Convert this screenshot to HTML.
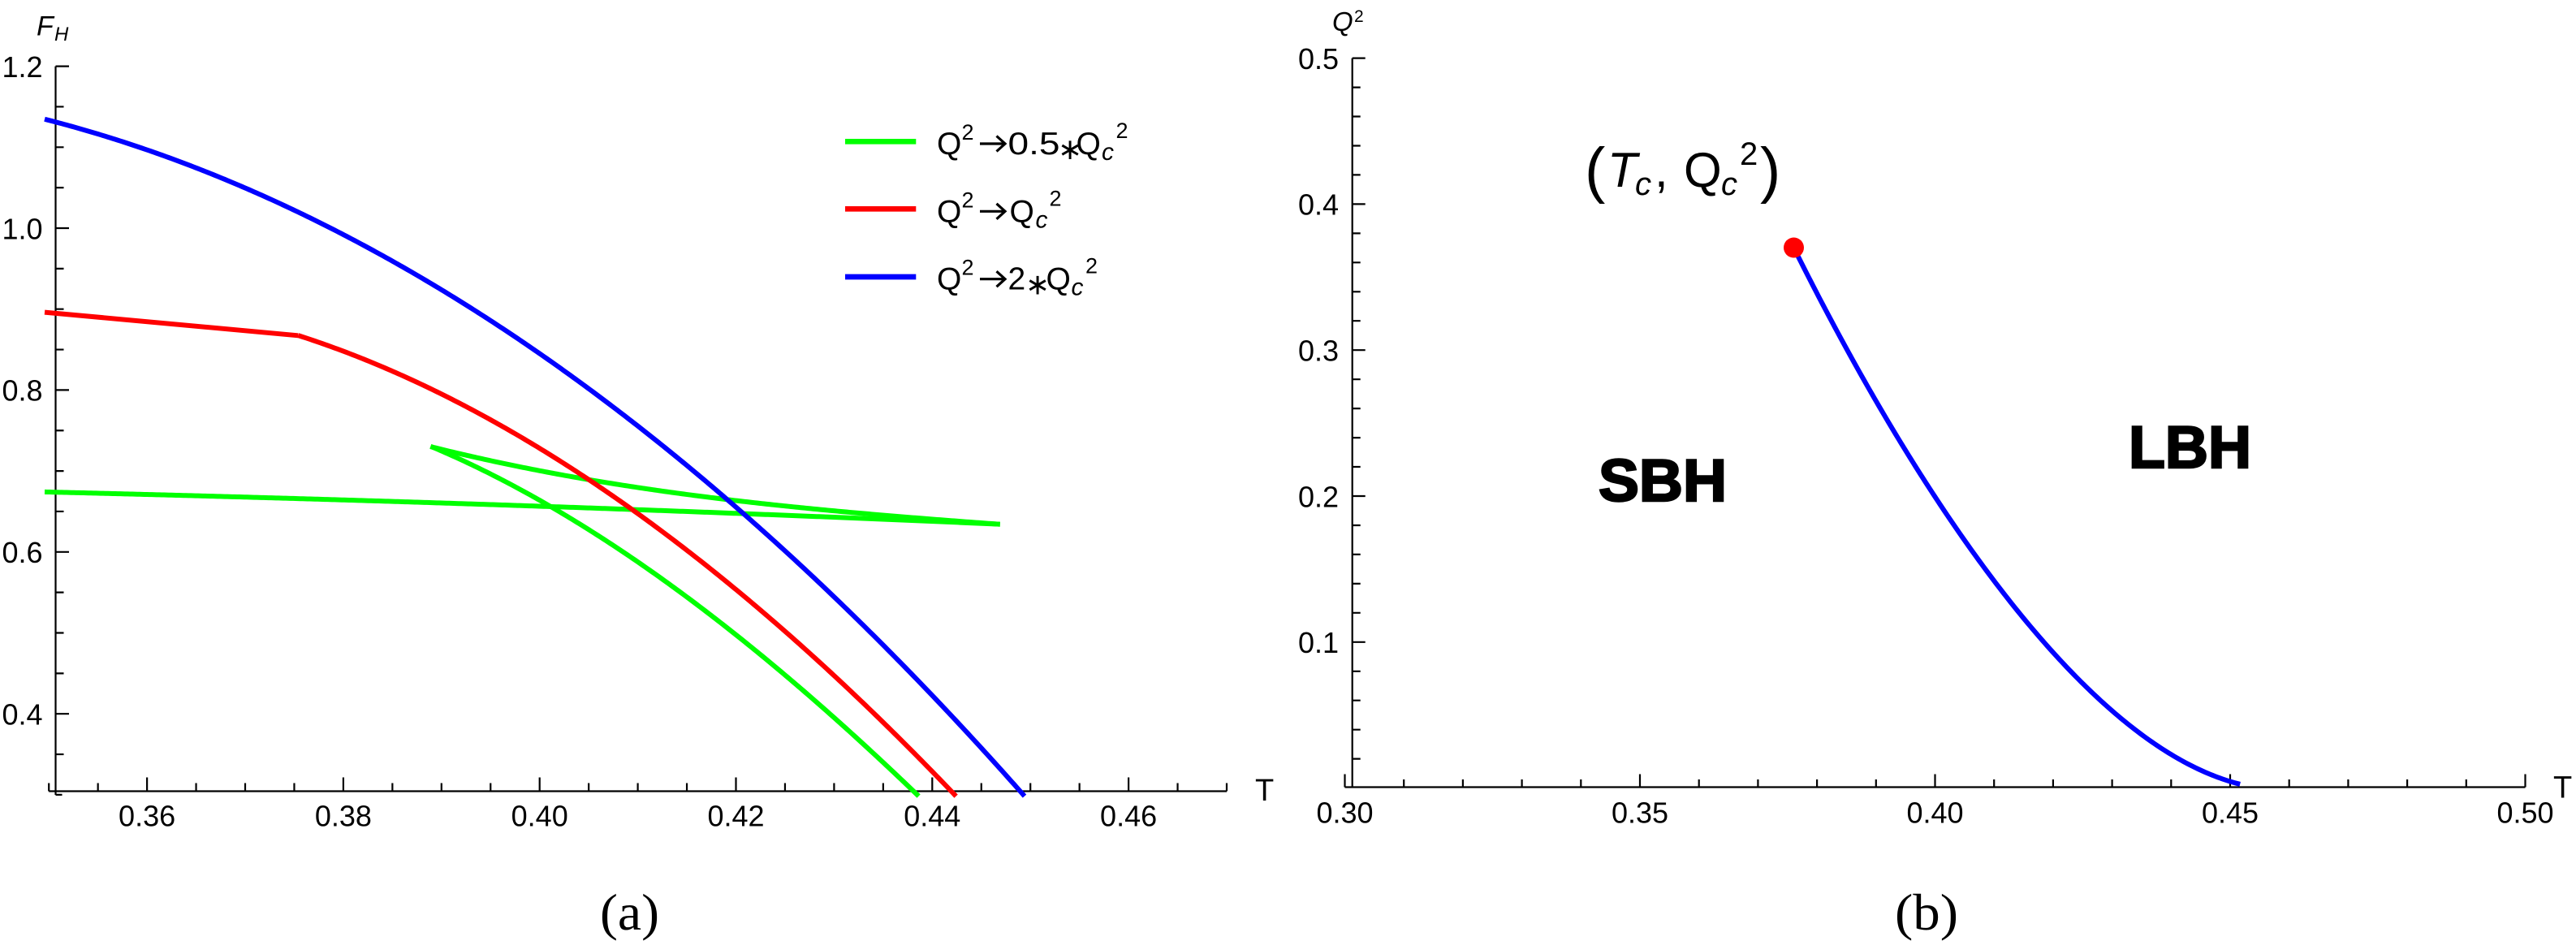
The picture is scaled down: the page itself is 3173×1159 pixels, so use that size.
<!DOCTYPE html>
<html>
<head>
<meta charset="utf-8">
<style>
  html,body{margin:0;padding:0;background:#fff;}
  svg{display:block;}
  text{font-family:"Liberation Sans","DejaVu Sans",sans-serif;fill:#000;}
  .serif{font-family:"Liberation Serif","DejaVu Serif",serif;}
</style>
</head>
<body>
<svg id="fig" width="3173" height="1159" viewBox="0 0 3173 1159" xmlns="http://www.w3.org/2000/svg">
<rect x="0" y="0" width="3173" height="1159" fill="#fff"/>

<!-- ================= LEFT PLOT (a) ================= -->
<g stroke="#000" stroke-width="2.2" fill="none">
  <path d="M68.5 81.6 V979"/>
  <path d="M60.2 974.5 H1511"/>
  <path d="M68.5 81.6 H85 M68.5 281 H85 M68.5 480.4 H85 M68.5 679.8 H85 M68.5 879.2 H85"/>
  <path d="M68.5 131.45 H78.5 M68.5 181.3 H78.5 M68.5 231.15 H78.5 M68.5 330.85 H78.5 M68.5 380.7 H78.5 M68.5 430.55 H78.5 M68.5 530.25 H78.5 M68.5 580.1 H78.5 M68.5 629.95 H78.5 M68.5 729.65 H78.5 M68.5 779.5 H78.5 M68.5 829.35 H78.5 M68.5 929.05 H78.5 M68.5 978.9 H76.5"/>
  <path d="M181.1 974.5 V957.5 M422.9 974.5 V957.5 M664.7 974.5 V957.5 M906.5 974.5 V957.5 M1148.3 974.5 V957.5 M1390.1 974.5 V957.5"/>
  <path d="M60.2 974.5 V964.5 M120.65 974.5 V964.5 M241.55 974.5 V964.5 M302 974.5 V964.5 M362.45 974.5 V964.5 M483.35 974.5 V964.5 M543.8 974.5 V964.5 M604.25 974.5 V964.5 M725.15 974.5 V964.5 M785.6 974.5 V964.5 M846.05 974.5 V964.5 M966.95 974.5 V964.5 M1027.4 974.5 V964.5 M1087.85 974.5 V964.5 M1208.75 974.5 V964.5 M1269.2 974.5 V964.5 M1329.65 974.5 V964.5 M1450.55 974.5 V964.5 M1511 974.5 V964.5"/>
</g>

<g font-size="36" text-anchor="end">
  <text x="52.5" y="95">1.2</text>
  <text x="52.5" y="294.3">1.0</text>
  <text x="52.5" y="493.7">0.8</text>
  <text x="52.5" y="693.1">0.6</text>
  <text x="52.5" y="892.5">0.4</text>
</g>
<g font-size="36" text-anchor="middle">
  <text x="181.1" y="1017.6">0.36</text>
  <text x="422.9" y="1017.6">0.38</text>
  <text x="664.7" y="1017.6">0.40</text>
  <text x="906.5" y="1017.6">0.42</text>
  <text x="1148.3" y="1017.6">0.44</text>
  <text x="1390.1" y="1017.6">0.46</text>
</g>
<text x="45" y="43.3" font-size="34" font-style="italic">F</text>
<text x="67" y="50" font-size="24" font-style="italic">H</text>
<text x="1546" y="986" font-size="38">T</text>

<g fill="none" stroke-width="6" stroke-linejoin="round" stroke-linecap="butt">
  <polyline id="g1" stroke="#00ff00" points="55,605.9 250,611.5 450,616.7 679.6,623.3 909.2,632.7 1100,640 1231.8,645.7"/>
  <polyline id="g2" stroke="#00ff00" points="530.4,550 553,556.5 576.5,562.6 630,575 719.8,590 800,601.5 897.8,613.3 980,624 1052.8,633.3 1140,640.5 1231.8,645.7"/>
  <polyline id="g3" stroke="#00ff00" points="530.4,550 556,557.5 582,566.7 630,593 679.6,623.3 737,663 794.4,703.3 852,743.5 909.2,783.3 950,815 992.5,850 1060,911 1131.6,980.7"/>
  <polyline stroke="#ff0000" points="55,384.6 367.3,413.3"/>
  <polyline id="r1" stroke="#ff0000" points="367.3,413.3 385,418.5 400,423.5 433.7,434.4 480,453.5 525.5,474.5 564.8,493.3 612,523 665,556 719.8,590 777.2,626.7 851.8,683.3 938,750 995,800 1047,850 1110,913 1177.6,980.7"/>
  <polyline id="b1" stroke="#0000ff" points="55,146.7 125,168 194,191 250,211.5 306,233 388,270 459,306 536,350 612,398 682.5,450 740,492 794.4,536.7 897.8,613.3 966.6,676.7 1052.8,763.3 1144.6,850 1182.7,891 1222,935 1262,980.7"/>
</g>

<!-- legend -->
<g stroke-width="6.7">
  <line x1="1041" y1="174.3" x2="1128.3" y2="174.3" stroke="#00ff00"/>
  <line x1="1041" y1="257.3" x2="1128.3" y2="257.3" stroke="#ff0000"/>
  <line x1="1041" y1="341" x2="1128.3" y2="341" stroke="#0000ff"/>
</g>
<g stroke="#000" stroke-width="3.2" fill="none" stroke-linecap="butt" stroke-linejoin="miter">
  <path d="M1207 177 H1236.5 M1227.5 167.5 L1238 177 L1227.5 186.5"/>
  <path d="M1207 260.3 H1236.5 M1227.5 250.8 L1238 260.3 L1227.5 269.8"/>
  <path d="M1207 343.7 H1236.5 M1227.5 334.2 L1238 343.7 L1227.5 353.2"/>
</g>
<g>
  <text x="1154" y="190" font-size="39">Q</text>
  <text x="1184.5" y="172" font-size="27">2</text>
  <text x="1241.5" y="190" font-size="39" textLength="64" lengthAdjust="spacingAndGlyphs">0.5</text>
  <text x="1303" y="196" font-size="36" font-family="DejaVu Sans, sans-serif">∗</text>
  <text x="1325.5" y="190" font-size="39">Q</text>
  <text x="1357" y="197" font-size="30" font-style="italic">c</text>
  <text x="1374.5" y="170" font-size="27">2</text>

  <text x="1154" y="273.3" font-size="39">Q</text>
  <text x="1184.5" y="255.3" font-size="27">2</text>
  <text x="1243.5" y="273.3" font-size="39">Q</text>
  <text x="1275.5" y="280.3" font-size="30" font-style="italic">c</text>
  <text x="1292.5" y="253.3" font-size="27">2</text>

  <text x="1154" y="356.7" font-size="39">Q</text>
  <text x="1184.5" y="338.7" font-size="27">2</text>
  <text x="1241.5" y="356.7" font-size="39">2</text>
  <text x="1263" y="362.7" font-size="36" font-family="DejaVu Sans, sans-serif">∗</text>
  <text x="1288.5" y="356.7" font-size="39">Q</text>
  <text x="1319.5" y="363.7" font-size="30" font-style="italic">c</text>
  <text x="1337" y="336.7" font-size="27">2</text>
</g>

<text class="serif" x="739" y="1145" font-size="64" textLength="73" lengthAdjust="spacingAndGlyphs">(a)</text>

<!-- ================= RIGHT PLOT (b) ================= -->
<g stroke="#000" stroke-width="2.2" fill="none">
  <path d="M1665.7 71.6 V969.5"/>
  <path d="M1656.5 969.5 H3110.5"/>
  <path d="M1665.7 790.8 H1681.7 M1665.7 611 H1681.7 M1665.7 431.2 H1681.7 M1665.7 251.4 H1681.7 M1665.7 71.6 H1681.7"/>
  <path d="M1665.7 934.6 H1675.7 M1665.7 898.7 H1675.7 M1665.7 862.7 H1675.7 M1665.7 826.8 H1675.7 M1665.7 754.8 H1675.7 M1665.7 718.9 H1675.7 M1665.7 682.9 H1675.7 M1665.7 647 H1675.7 M1665.7 575 H1675.7 M1665.7 539.1 H1675.7 M1665.7 503.1 H1675.7 M1665.7 467.2 H1675.7 M1665.7 395.2 H1675.7 M1665.7 359.3 H1675.7 M1665.7 323.3 H1675.7 M1665.7 287.4 H1675.7 M1665.7 215.4 H1675.7 M1665.7 179.5 H1675.7 M1665.7 143.5 H1675.7 M1665.7 107.6 H1675.7"/>
  <path d="M1656.5 969.5 V953.5 M2020 969.5 V953.5 M2383.5 969.5 V953.5 M2747 969.5 V953.5 M3110.5 969.5 V953.5"/>
  <path d="M1729.2 969.5 V960 M1801.9 969.5 V960 M1874.6 969.5 V960 M1947.3 969.5 V960 M2092.7 969.5 V960 M2165.4 969.5 V960 M2238.1 969.5 V960 M2310.8 969.5 V960 M2456.2 969.5 V960 M2528.9 969.5 V960 M2601.6 969.5 V960 M2674.3 969.5 V960 M2819.7 969.5 V960 M2892.4 969.5 V960 M2965.1 969.5 V960 M3037.8 969.5 V960"/>
</g>
<g font-size="36" text-anchor="end">
  <text x="1649" y="84.9">0.5</text>
  <text x="1649" y="264.7">0.4</text>
  <text x="1649" y="444.5">0.3</text>
  <text x="1649" y="624.3">0.2</text>
  <text x="1649" y="804.1">0.1</text>
</g>
<g font-size="36" text-anchor="middle">
  <text x="1656.5" y="1013.5">0.30</text>
  <text x="2020" y="1013.5">0.35</text>
  <text x="2383.5" y="1013.5">0.40</text>
  <text x="2747" y="1013.5">0.45</text>
  <text x="3110.5" y="1013.5">0.50</text>
</g>
<text x="1641" y="38" font-size="33" font-style="italic">Q</text>
<text x="1668" y="27" font-size="21">2</text>
<text x="3145" y="982.5" font-size="38">T</text>

<text x="1952" y="235" font-size="76">(</text>
<text x="1980" y="230" font-size="60" font-style="italic">T</text>
<text x="2014" y="240" font-size="40" font-style="italic">c</text>
<text x="2038" y="230" font-size="60">,</text>
<text x="2074" y="230" font-size="60">Q</text>
<text x="2120" y="240" font-size="40" font-style="italic">c</text>
<text x="2143" y="203" font-size="40">2</text>
<text x="2168" y="235" font-size="76">)</text>

<text x="1969" y="617" font-size="73" font-weight="bold" stroke="#000" stroke-width="2.5" textLength="158" lengthAdjust="spacingAndGlyphs">SBH</text>
<text x="2622" y="576" font-size="73" font-weight="bold" stroke="#000" stroke-width="2.5" textLength="151" lengthAdjust="spacingAndGlyphs">LBH</text>

<polyline id="b2" fill="none" stroke="#0000ff" stroke-width="6" stroke-linejoin="round" points="2209.5,305 2212.6,313.8 2240,366.5 2268.8,421 2297,469.5 2325,516.6 2373,594.8 2424,672.3 2475,738.8 2526,801.6 2577,853.3 2628,897.6 2679,930.8 2730,956.7 2759.2,965.9"/>
<circle cx="2209.5" cy="305" r="12.5" fill="#ff0000"/>

<text class="serif" x="2334" y="1145" font-size="64" textLength="78" lengthAdjust="spacingAndGlyphs">(b)</text>
</svg>
<script>
(function(){
  function solve(A, b){
    var n = b.length, i, j, k;
    for (i = 0; i < n; i++) {
      var mx = i;
      for (k = i+1; k < n; k++) if (Math.abs(A[k][i]) > Math.abs(A[mx][i])) mx = k;
      var tmp = A[i]; A[i] = A[mx]; A[mx] = tmp;
      var tb = b[i]; b[i] = b[mx]; b[mx] = tb;
      for (k = i+1; k < n; k++) {
        var f = A[k][i] / A[i][i];
        for (j = i; j < n; j++) A[k][j] -= f * A[i][j];
        b[k] -= f * b[i];
      }
    }
    var x = new Array(n);
    for (i = n-1; i >= 0; i--) {
      var s = b[i];
      for (j = i+1; j < n; j++) s -= A[i][j] * x[j];
      x[i] = s / A[i][i];
    }
    return x;
  }
  function fitCurve(id, deg, wEnd){
    var pl = document.getElementById(id);
    if (!pl) return;
    var pts = pl.getAttribute('points').trim().split(/\s+/).map(function(s){ var a = s.split(','); return [parseFloat(a[0]), parseFloat(a[1])]; });
    var x0 = pts[0][0], x1 = pts[pts.length-1][0], L = x1 - x0, n = deg + 1;
    var A = [], b = [], i, j, k;
    for (i = 0; i < n; i++) { A.push([]); b.push(0); for (j = 0; j < n; j++) A[i].push(0); }
    for (i = 0; i < pts.length; i++) {
      var w = (i === 0 || i === pts.length-1) ? wEnd : 1;
      var t = (pts[i][0] - x0) / L, pw = [];
      for (k = 0; k < n; k++) pw.push(Math.pow(t, k));
      for (j = 0; j < n; j++) { for (k = 0; k < n; k++) A[j][k] += w * pw[j] * pw[k]; b[j] += w * pw[j] * pts[i][1]; }
    }
    var c = solve(A, b);
    function f(x){ var t = (x - x0) / L, s = 0; for (var q = 0; q < n; q++) s += c[q] * Math.pow(t, q); return s; }
    var out = [], step = 3;
    for (var x = x0; x < x1; x += step) out.push(x.toFixed(2) + ',' + f(x).toFixed(2));
    out.push(x1.toFixed(2) + ',' + f(x1).toFixed(2));
    var ok = out.every(function(s){ return s.indexOf('NaN') < 0; });
    if (ok) pl.setAttribute('points', out.join(' '));
  }
  fitCurve('g1', 2, 30);
  fitCurve('g2', 3, 30);
  fitCurve('g3', 3, 30);
  fitCurve('r1', 3, 30);
  fitCurve('b1', 3, 30);
  fitCurve('b2', 4, 30);
})();
</script>
</body>
</html>
